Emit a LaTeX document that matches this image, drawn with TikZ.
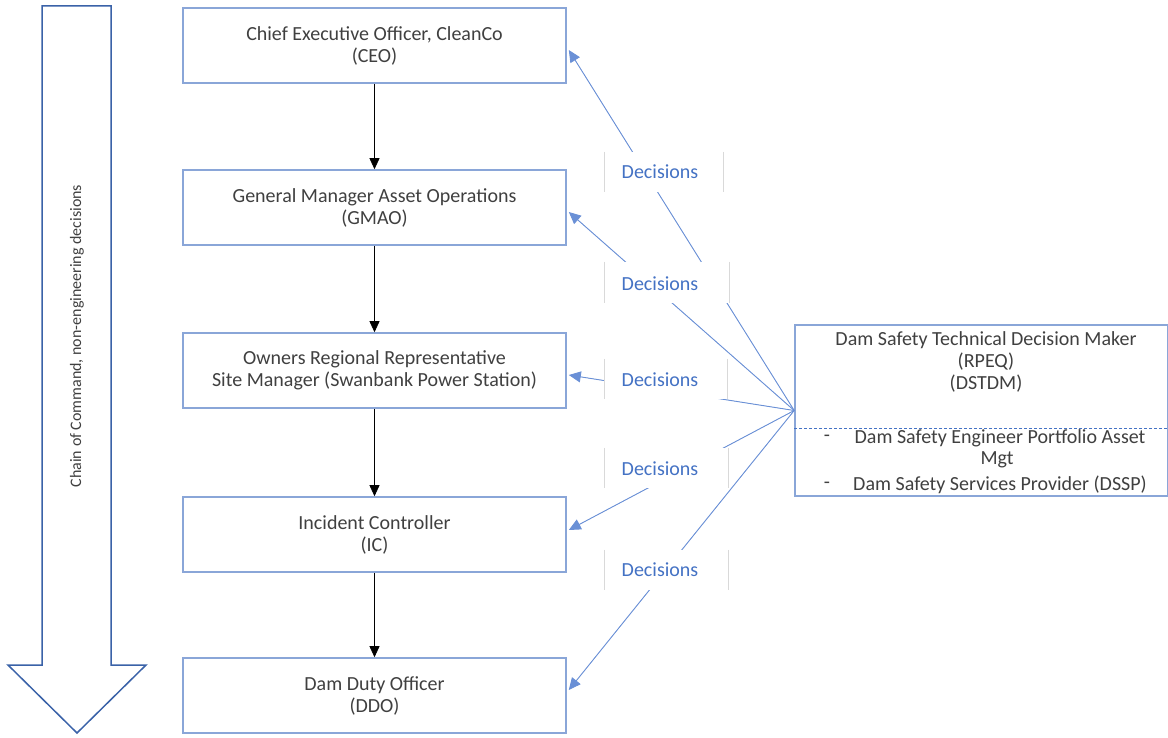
\documentclass[tikz,border=0pt]{standalone}
\usepackage{fontspec}
\setmainfont{Carlito}
\usetikzlibrary{arrows.meta,calc}
\definecolor{boxline}{HTML}{8AA6D8}
\definecolor{txt}{HTML}{404040}
\definecolor{decblue}{HTML}{4472C4}
\definecolor{decline}{HTML}{6A90D6}
\definecolor{bigarrow}{HTML}{3A62A8}
\definecolor{sidegrey}{HTML}{D9D9D9}
\tikzset{
  rolebox/.style={draw=boxline, line width=1.6pt, fill=white, minimum width=383pt, minimum height=75pt,
    align=center, text=txt, font=\fontsize{20}{22}\selectfont, inner sep=0pt},
  chainarrow/.style={-{Triangle[length=11pt,width=10pt]}, line width=0.8pt, black},
  decarrow/.style={-{Triangle[length=12pt,width=11pt]}, line width=0.9pt, draw=decline, fill=decblue},
  labelbg/.style={fill=white, draw=none, inner sep=0pt},
  declabel/.style={text=decblue, font=\fontsize{20}{22}\selectfont, inner sep=0pt},
  sideline/.style={draw=sidegrey, line width=0.7pt},
  dsttext/.style={text=txt, font=\fontsize{20}{22}\selectfont, inner sep=0pt}
}
\begin{document}
\begin{tikzpicture}[x=1pt,y=-1pt]
\useasboundingbox (0,0) rectangle (1168,738);
% big chain-of-command arrow
\draw[bigarrow, line width=1.5pt, line join=miter, fill=white]
  (42,6) -- (111,6) -- (111,665) -- (146,665) -- (77,733) -- (8,665) -- (42,665) -- cycle;
\node[rotate=90, text=txt, font=\fontsize{16}{18}\selectfont] (chain) at (77,336) {Chain of Command, non-engineering decisions};
% role boxes
\node[rolebox] (ceo)  at (374.5,45.5)  {Chief Executive Officer, CleanCo\\(CEO)};
\node[rolebox] (gmao) at (374.5,207.5) {General Manager Asset Operations\\(GMAO)};
\node[rolebox] (orr)  at (374.5,370.5) {Owners Regional Representative\\Site Manager (Swanbank Power Station)};
\node[rolebox] (ic)   at (374.5,534.5) {Incident Controller\\(IC)};
\node[rolebox] (ddo)  at (374.5,695.5) {Dam Duty Officer\\(DDO)};
% chain arrows
\draw[chainarrow] (ceo.south) -- (gmao.north);
\draw[chainarrow] (gmao.south) -- (orr.north);
\draw[chainarrow] (orr.south) -- (ic.north);
\draw[chainarrow] (ic.south) -- (ddo.north);
% technical decision maker box
\node[draw=boxline, line width=1.6pt, fill=white, minimum width=373pt, minimum height=171pt, inner sep=0pt] (dst) at (981.5,410.5) {};
\draw[decblue, line width=0.6pt, dash pattern=on 3pt off 2pt] (dst.west |- 0,428) coordinate (dl) -- (dst.east |- 0,428) coordinate (dr);
\node[dsttext] (d1) at (986,340) {Dam Safety Technical Decision Maker};
\node[dsttext] (d2) at (986,362) {(RPEQ)};
\node[dsttext] (d3) at (986,384) {(DSTDM)};
\node[dsttext] (d4) at (827,438) {-};
\node[dsttext] (d5) at (1000,438) {Dam Safety Engineer Portfolio Asset};
\node[dsttext] (d6) at (997,460) {Mgt};
\node[dsttext] (d7) at (827,485) {-};
\node[dsttext] (d8) at (1000,485) {Dam Safety Services Provider (DSSP)};
% decision arrows
\draw[decarrow] (dst.west) -- ($(ceo.east)+(2,4.5)$);
\draw[decarrow] (dst.west) -- ($(gmao.east)+(2,4.5)$);
\draw[decarrow] (dst.west) -- ($(orr.east)+(2,4.5)$);
\draw[decarrow] (dst.west) -- ($(ic.east)+(2,-4.5)$);
\draw[decarrow] (dst.west) -- ($(ddo.east)+(2,-5.5)$);
% decision labels
\node[labelbg, minimum width=118pt, minimum height=40pt] (b1) at (664,172) {};
\draw[sideline] (b1.north west) -- (b1.south west) (b1.north east) -- (b1.south east);
\node[declabel] (l1) at (660,172) {Decisions};
\node[labelbg, minimum width=124pt, minimum height=41pt] (b2) at (667,282.5) {};
\draw[sideline] (b2.north west) -- (b2.south west) (b2.north east) -- (b2.south east);
\node[declabel] (l2) at (660,284) {Decisions};
\node[labelbg, minimum width=122pt, minimum height=40pt] (b3) at (666,379) {};
\draw[sideline] (b3.north west) -- (b3.south west) (b3.north east) -- (b3.south east);
\node[declabel] (l3) at (660,380) {Decisions};
\node[labelbg, minimum width=123pt, minimum height=40pt] (b4) at (666.5,468) {};
\draw[sideline] (b4.north west) -- (b4.south west) (b4.north east) -- (b4.south east);
\node[declabel] (l4) at (660,469) {Decisions};
\node[labelbg, minimum width=123pt, minimum height=40pt] (b5) at (666.5,570) {};
\draw[sideline] (b5.north west) -- (b5.south west) (b5.north east) -- (b5.south east);
\node[declabel] (l5) at (660,570) {Decisions};
\end{tikzpicture}
\end{document}
